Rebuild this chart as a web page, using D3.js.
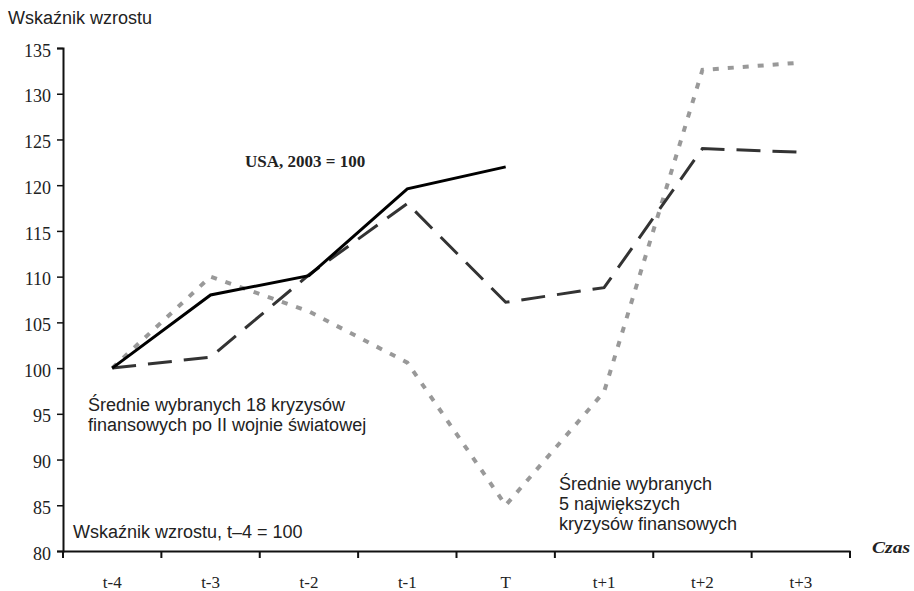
<!DOCTYPE html>
<html>
<head>
<meta charset="utf-8">
<script src="https://cdn.jsdelivr.net/npm/d3@7"></script>
<style>
  body { margin: 0; background: #fff; }
  svg text { fill: #222; }
</style>
</head>
<body>
<div id="chart"></div>
<script>
// ---- dane ----
const periods = ['t-4','t-3','t-2','t-1','T','t+1','t+2','t+3'];
const usa      = [100, 108, 110.1, 119.6, 122];
const crises18 = [100, 101.2, 110.2, 118, 107.2, 108.8, 124, 123.6];
const crises5  = [100, 110, 106.2, 100.6, 85, 97.4, 132.6, 133.4];
const yTicks   = [80, 85, 90, 95, 100, 105, 110, 115, 120, 125, 130, 135];

const width = 914, height = 591;
const margin = { top: 48, right: 64, bottom: 40, left: 63 };
const innerW = width - margin.left - margin.right;
const innerH = height - margin.top - margin.bottom;

const serif = 'Liberation Serif, Times New Roman, serif';
const sans  = 'Liberation Sans, Arial, sans-serif';

const svg = d3.select('#chart').append('svg')
  .attr('width', width)
  .attr('height', height);

const g = svg.append('g')
  .attr('transform', `translate(${margin.left},${margin.top})`);

const x = d3.scaleBand().domain(periods).range([0, innerW]);
const y = d3.scaleLinear().domain([80, 135]).range([innerH, 0]);
const cx = d => x(d) + x.bandwidth() / 2;

// osie
const yAxis = g.append('g')
  .call(d3.axisLeft(y).tickValues(yTicks).tickSize(6).tickPadding(6));
yAxis.select('.domain').attr('stroke', '#111').attr('stroke-width', 2);
yAxis.selectAll('.tick line').attr('stroke', '#111').attr('stroke-width', 1.5);
yAxis.selectAll('.tick text')
  .attr('font-family', serif).attr('dy', '0.45em')
  .attr('font-size', 18).attr('fill', '#333');

const xAxis = g.append('g')
  .attr('transform', `translate(0,${innerH})`)
  .call(d3.axisBottom(x).tickSize(0).tickPadding(25));
xAxis.select('.domain').attr('stroke', '#111').attr('stroke-width', 2);
xAxis.selectAll('.tick text')
  .attr('font-family', serif)
  .attr('font-size', 17).attr('fill', '#333');
// znaczniki na granicach przedziałów
g.append('g').selectAll('line')
  .data(periods.map(p => x(p)).concat([innerW]))
  .join('line')
  .attr('x1', d => d).attr('x2', d => d)
  .attr('y1', innerH).attr('y2', innerH + 7)
  .attr('stroke', '#111').attr('stroke-width', 2);

// linie
const line = d3.line().x((d, i) => cx(periods[i])).y(d => y(d));

g.append('path')
  .datum(crises5)
  .attr('fill', 'none')
  .attr('stroke', '#999')
  .attr('stroke-width', 4)
  .attr('stroke-dasharray', '6,9')
  .attr('d', line);

g.append('path')
  .datum(crises18)
  .attr('fill', 'none')
  .attr('stroke', '#333')
  .attr('stroke-width', 3)
  .attr('stroke-dasharray', '24,12')
  .attr('d', line);

g.append('path')
  .datum(usa)
  .attr('fill', 'none')
  .attr('stroke', '#000')
  .attr('stroke-width', 3)
  .attr('d', line);

// teksty
svg.append('text').attr('x', 8).attr('y', 24)
  .attr('font-family', sans).attr('font-size', 18).text('Wskaźnik wzrostu');

svg.append('text').attr('x', 245).attr('y', 167)
  .attr('font-family', serif)
  .attr('font-weight', 'bold').attr('font-size', 17).attr('fill', '#333')
  .text('USA, 2003 = 100');

svg.append('text').attr('x', 872).attr('y', 553)
  .attr('font-family', serif)
  .attr('font-weight', 'bold').attr('font-style', 'italic').attr('font-size', 16)
  .attr('textLength', 38).attr('lengthAdjust', 'spacingAndGlyphs')
  .text('Czas');

const note = (lines, x0, y0) => {
  const t = svg.append('text').attr('font-family', sans).attr('font-size', 18);
  lines.forEach((s, i) => t.append('tspan').attr('x', x0).attr('y', y0 + i * 20).text(s));
};
note(['Średnie wybranych 18 kryzysów', 'finansowych po II wojnie światowej'], 88, 411);
note(['Średnie wybranych', '5 największych', 'kryzysów finansowych'], 559, 490);
note(['Wskaźnik wzrostu, t–4 = 100'], 73, 538);
</script>
</body>
</html>
